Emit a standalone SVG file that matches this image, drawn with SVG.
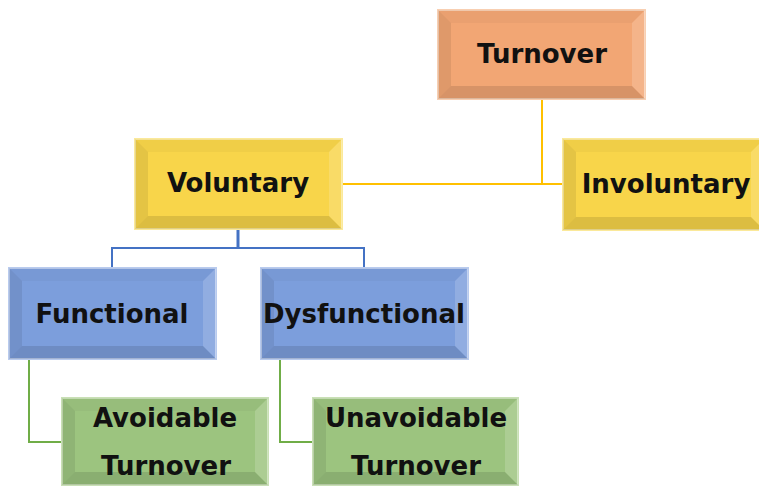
<svg xmlns="http://www.w3.org/2000/svg" width="759" height="486" viewBox="0 0 759 486">
<style>
.lbl{font-family:"DejaVu Sans","Verdana",sans-serif;font-weight:bold;font-size:26px;fill:#111;text-anchor:middle}
.or{fill:#F2A674;stroke:#F8CFB2;stroke-width:2}
.ye{fill:#F8D54A;stroke:#FBE99A;stroke-width:2}
.bl{fill:#7C9EDC;stroke:#B9CBEE;stroke-width:2}
.gr{fill:#9CC47F;stroke:#C9E0B6;stroke-width:2}
.bt{fill:#000;opacity:0.03}
.bleft{fill:#000;opacity:0.08}
.bb{fill:#000;opacity:0.11}
.br{fill:#fff;opacity:0.16}
.cy{fill:none;stroke:#FFC000;stroke-width:2}
.cb{fill:none;stroke:#4472C4;stroke-width:2}
.cg{fill:none;stroke:#70AD47;stroke-width:2}
</style>
<rect width="759" height="486" fill="#fff"/>
<g id="connectors">
<path class="cy" d="M542,99 V184 M342,184 H563"/>
<path class="cb" d="M238,229 V248" style="stroke-width:3"/>
<path class="cb" d="M112,267 V248 H364 V267"/>
<path class="cg" d="M29,359 V442 H62 M280,359 V442 H313"/>
</g>
<g id="turnover">
<rect class="or" x="438" y="10" width="207" height="89"/>
<polygon class="bt" points="438,10 645,10 632,23 451,23"/>
<polygon class="bleft" points="438,10 451,23 451,86 438,99"/>
<polygon class="bb" points="438,99 451,86 632,86 645,99"/>
<polygon class="br" points="645,10 645,99 632,86 632,23"/>
<text class="lbl" x="542" y="63">Turnover</text>
</g>
<g id="involuntary">
<rect class="ye" x="563" y="139" width="201" height="91"/>
<polygon class="bt" points="563,139 764,139 751,152 576,152"/>
<polygon class="bleft" points="563,139 576,152 576,217 563,230"/>
<polygon class="bb" points="563,230 576,217 751,217 764,230"/>
<polygon class="br" points="764,139 764,230 751,217 751,152"/>
<text class="lbl" x="666" y="193">Involuntary</text>
</g>
<g id="voluntary">
<rect class="ye" x="135" y="139" width="207" height="90"/>
<polygon class="bt" points="135,139 342,139 329,152 148,152"/>
<polygon class="bleft" points="135,139 148,152 148,216 135,229"/>
<polygon class="bb" points="135,229 148,216 329,216 342,229"/>
<polygon class="br" points="342,139 342,229 329,216 329,152"/>
<text class="lbl" x="238" y="192">Voluntary</text>
</g>
<g id="functional">
<rect class="bl" x="9" y="268" width="207" height="91"/>
<polygon class="bt" points="9,268 216,268 203,281 22,281"/>
<polygon class="bleft" points="9,268 22,281 22,346 9,359"/>
<polygon class="bb" points="9,359 22,346 203,346 216,359"/>
<polygon class="br" points="216,268 216,359 203,346 203,281"/>
<text class="lbl" x="112" y="323">Functional</text>
</g>
<g id="dysfunctional">
<rect class="bl" x="261" y="268" width="207" height="91"/>
<polygon class="bt" points="261,268 468,268 455,281 274,281"/>
<polygon class="bleft" points="261,268 274,281 274,346 261,359"/>
<polygon class="bb" points="261,359 274,346 455,346 468,359"/>
<polygon class="br" points="468,268 468,359 455,346 455,281"/>
<text class="lbl" x="364" y="323">Dysfunctional</text>
</g>
<g id="avoidable">
<rect class="gr" x="62" y="398" width="206" height="87"/>
<polygon class="bt" points="62,398 268,398 255,411 75,411"/>
<polygon class="bleft" points="62,398 75,411 75,472 62,485"/>
<polygon class="bb" points="62,485 75,472 255,472 268,485"/>
<polygon class="br" points="268,398 268,485 255,472 255,411"/>
<text class="lbl" x="165" y="427">Avoidable</text>
<text class="lbl" x="166" y="475">Turnover</text>
</g>
<g id="unavoidable">
<rect class="gr" x="313" y="398" width="205" height="87"/>
<polygon class="bt" points="313,398 518,398 505,411 326,411"/>
<polygon class="bleft" points="313,398 326,411 326,472 313,485"/>
<polygon class="bb" points="313,485 326,472 505,472 518,485"/>
<polygon class="br" points="518,398 518,485 505,472 505,411"/>
<text class="lbl" x="416" y="427">Unavoidable</text>
<text class="lbl" x="416" y="475">Turnover</text>
</g>
</svg>
